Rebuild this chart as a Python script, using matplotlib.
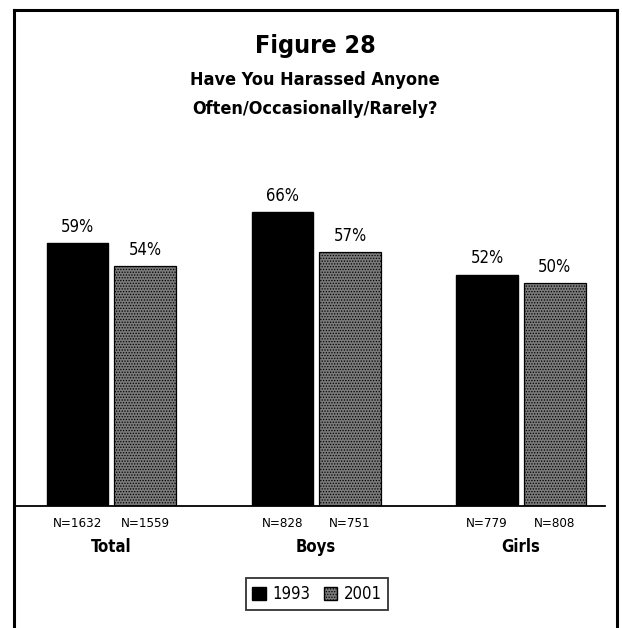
import numpy as np
import matplotlib.pyplot as plt
from matplotlib.patches import Patch

# data
groups = ['Total', 'Boys', 'Girls']
pct_1993 = [59, 66, 52]
pct_2001 = [54, 57, 50]
n_1993 = ['N=1632', 'N=828', 'N=779']
n_2001 = ['N=1559', 'N=751', 'N=808']
years = ['1993', '2001']

plt.rcParams['font.family'] = ['DejaVu Sans']
plt.rcParams['font.stretch'] = 'condensed'
plt.rcParams['hatch.color'] = '#222222'
plt.rcParams['hatch.linewidth'] = 0.6

W, H = 622, 628
fig = plt.figure(figsize=(W / 100, H / 100), dpi=100)

# outer frame (open at the bottom, as in the scan)
fig.add_artist(plt.Line2D([14 / W, 14 / W], [0, 1 - 10 / H], color='black', lw=2.2))
fig.add_artist(plt.Line2D([14 / W, 617 / W], [1 - 10 / H, 1 - 10 / H], color='black', lw=2.2))
fig.add_artist(plt.Line2D([617 / W, 617 / W], [0, 1 - 10 / H], color='black', lw=2.2))

ax = fig.add_axes([15 / W, 1 - 506 / H, (605 - 15) / W, (506 - 190) / H])

x = np.arange(len(groups))
width = 0.30
off = 0.165

b1 = ax.bar(x - off, pct_1993, width, color='black', edgecolor='black')
b2 = ax.bar(x + off, pct_2001, width, color='#7a7a7a', edgecolor='black',
            linewidth=0.9, hatch='......')

for bars, vals in ((b1, pct_1993), (b2, pct_2001)):
    for b, v in zip(bars, vals):
        ax.text(b.get_x() + b.get_width() / 2, v + 1.6, f'{v}%',
                ha='center', va='bottom', fontsize=12)

ax.set_xlim(-0.47, 2.41)
ax.set_ylim(0, 71)
for s in ['top', 'right', 'left']:
    ax.spines[s].set_visible(False)
ax.spines['bottom'].set_linewidth(1.3)
ax.set_xticks([])
ax.set_yticks([])

# N labels and group names under the axis
for i in range(len(groups)):
    ax.annotate(n_1993[i], (x[i] - off, 0), xytext=(0, -12.5), textcoords='offset points',
                ha='center', va='center', fontsize=9.5)
    ax.annotate(n_2001[i], (x[i] + off, 0), xytext=(0, -12.5), textcoords='offset points',
                ha='center', va='center', fontsize=9.5)
    ax.annotate(groups[i], (x[i], 0), xytext=(0, -29.5), textcoords='offset points',
                ha='center', va='center', fontsize=12, fontweight='bold')

fig.text(315 / W, 1 - 46 / H, 'Figure 28', ha='center', va='center',
         fontsize=18, fontweight='bold')
fig.text(315 / W, 1 - 80 / H, 'Have You Harassed Anyone', ha='center', va='center',
         fontsize=13, fontweight='bold')
fig.text(315 / W, 1 - 109 / H, 'Often/Occasionally/Rarely?', ha='center', va='center',
         fontsize=13, fontweight='bold')

handles = [Patch(facecolor='black', edgecolor='black'),
           Patch(facecolor='#7a7a7a', edgecolor='black', hatch='......')]
leg = fig.legend(handles, years, loc='center', bbox_to_anchor=(317 / W, 1 - 594 / H),
                 ncol=2, frameon=True, fancybox=False, fontsize=12,
                 handlelength=0.8, handleheight=0.8, handletextpad=0.4,
                 columnspacing=0.8, borderpad=0.4)
leg.get_frame().set_edgecolor('black')
leg.get_frame().set_linewidth(1.3)

fig.savefig('out.png', dpi=100, facecolor='white')
